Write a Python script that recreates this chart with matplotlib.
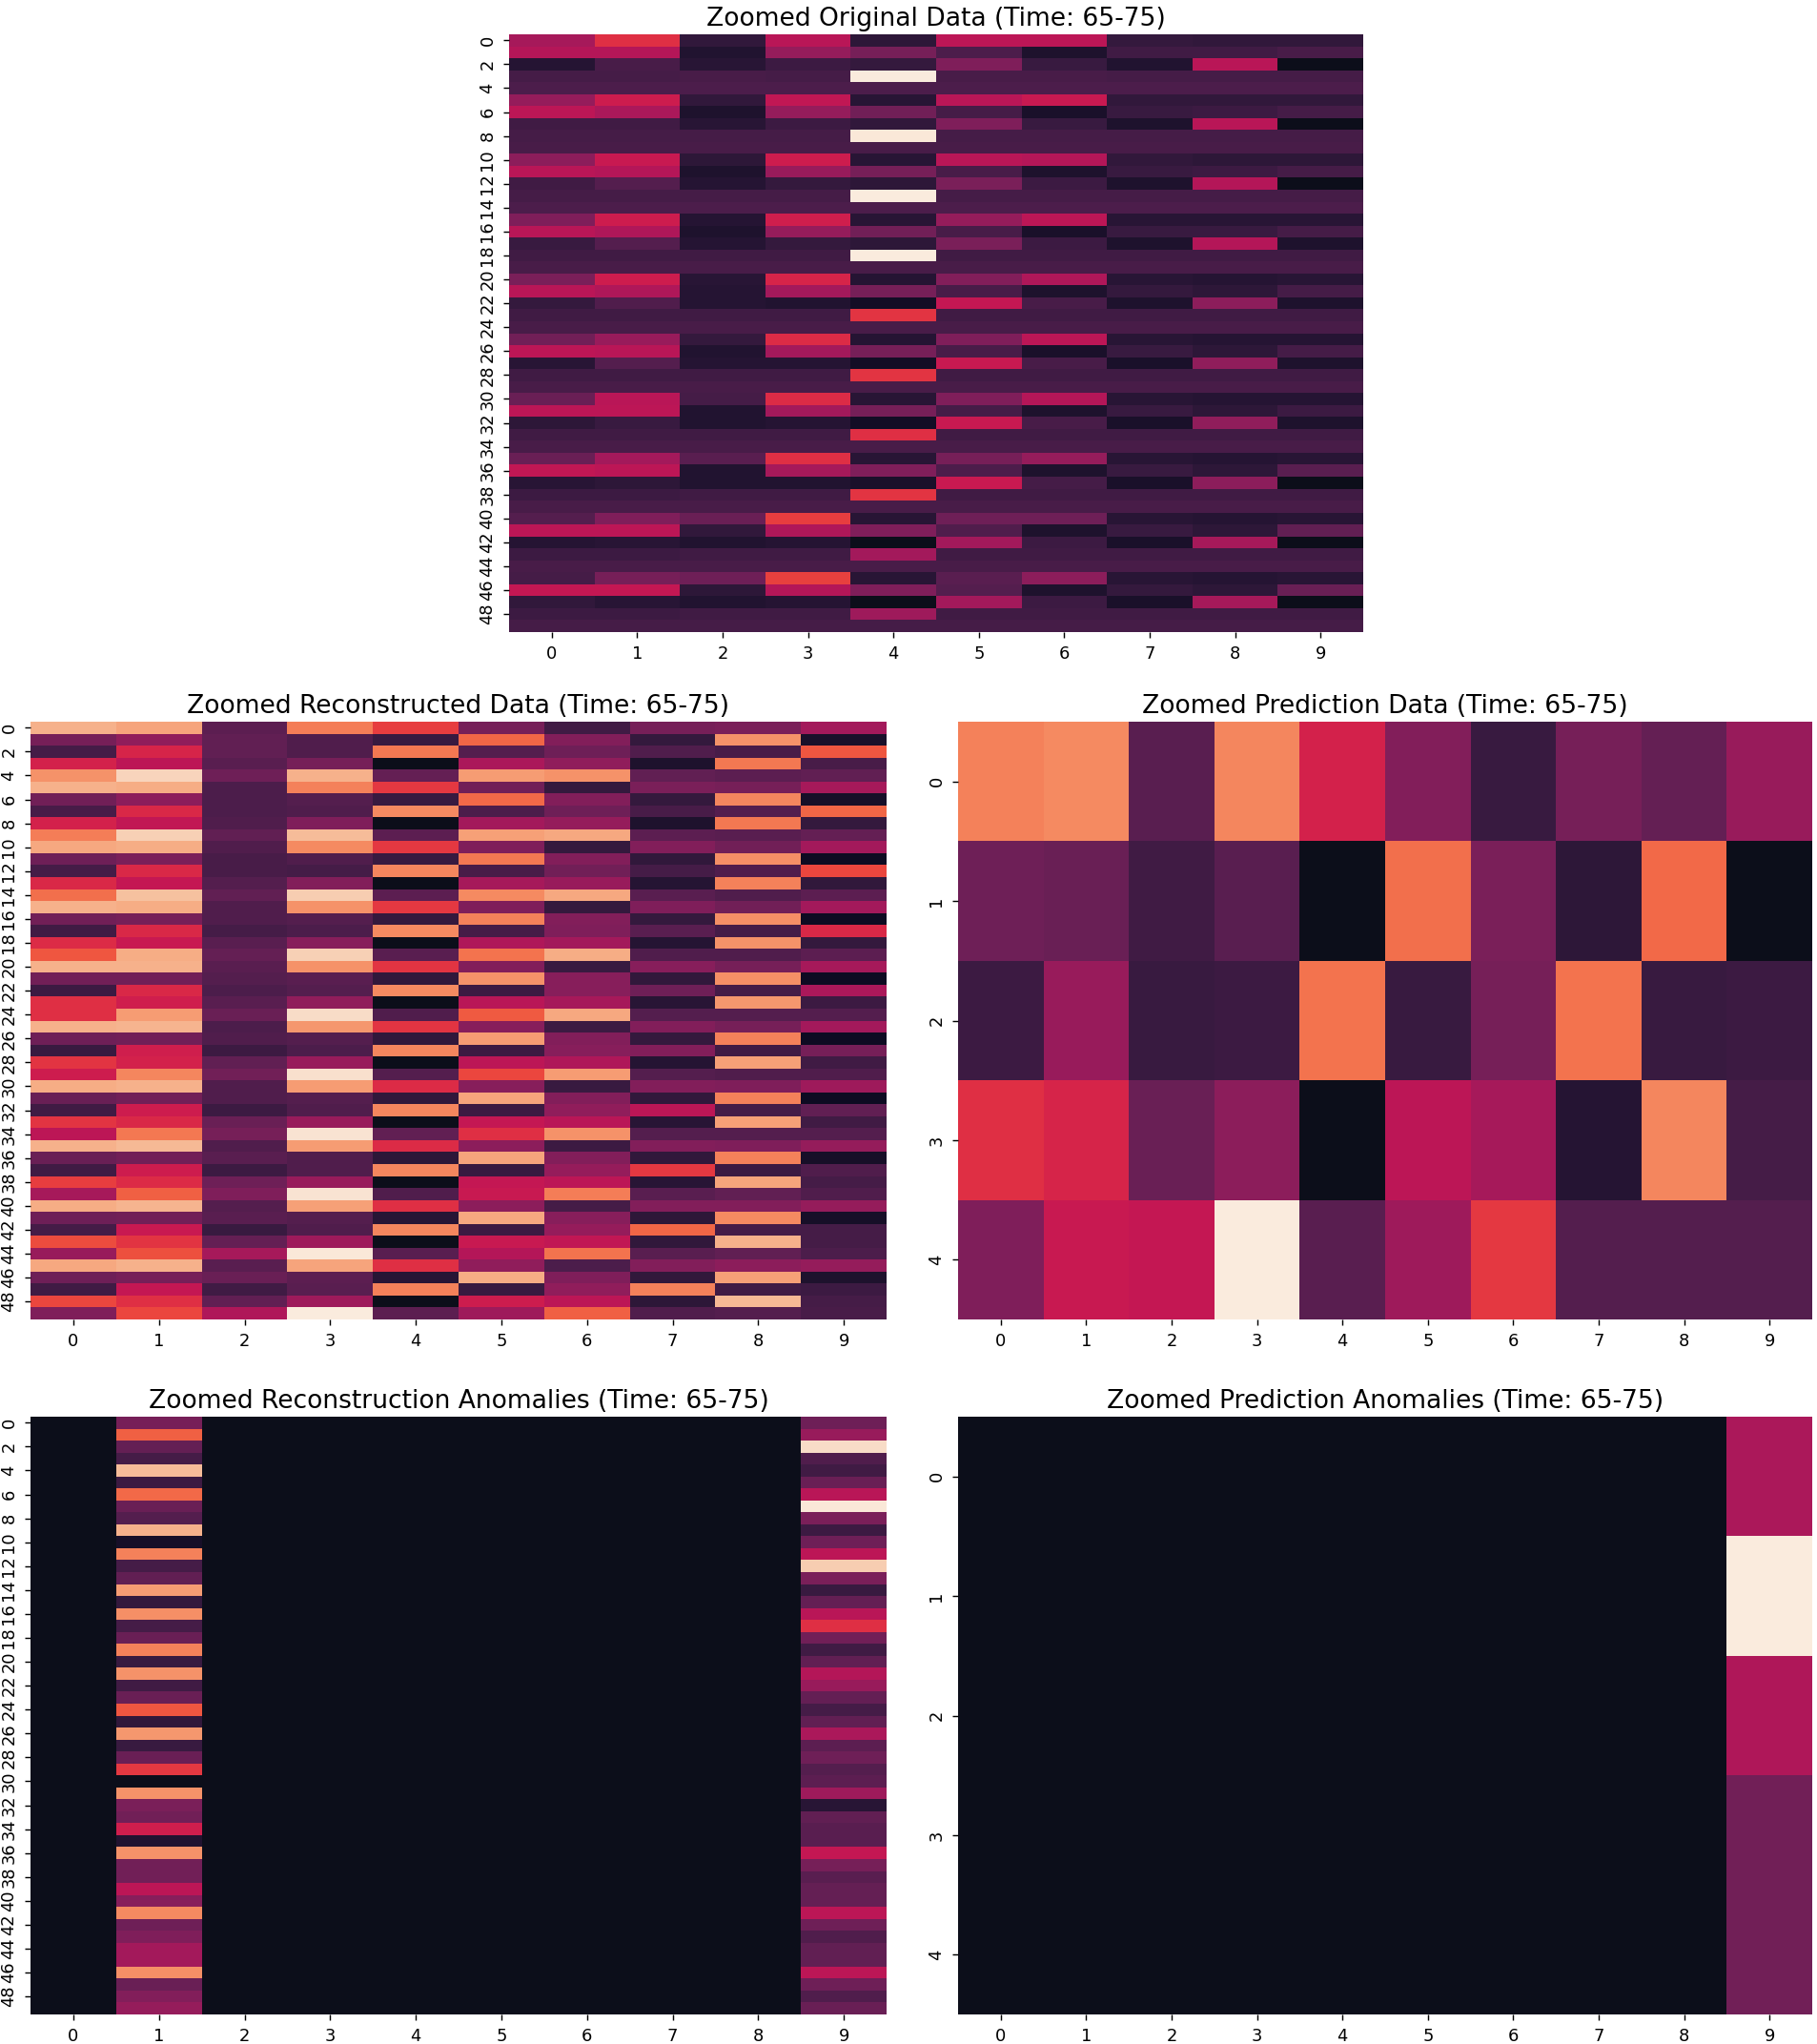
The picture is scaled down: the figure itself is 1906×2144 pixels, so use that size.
import numpy as np
import matplotlib
matplotlib.use('Agg')
import matplotlib.pyplot as plt
import seaborn as sns

original = [
    [.42, .57, .14, .46, .13, .47, .47, .15, .14, .14],
    [.45, .45, .10, .38, .31, .21, .09, .18, .18, .20],
    [.11, .20, .12, .17, .15, .33, .16, .10, .46, .01],
    [.19, .19, .20, .19, 1.0, .20, .20, .19, .19, .19],
    [.21, .21, .21, .21, .21, .21, .21, .21, .21, .21],
    [.38, .51, .14, .48, .12, .46, .50, .14, .14, .14],
    [.47, .43, .09, .38, .30, .19, .08, .16, .17, .19],
    [.18, .18, .12, .17, .14, .33, .16, .09, .46, .01],
    [.19, .19, .19, .19, .99, .19, .19, .19, .19, .19],
    [.20, .20, .20, .20, .20, .20, .20, .20, .20, .20],
    [.36, .50, .13, .51, .12, .46, .45, .14, .13, .13],
    [.46, .45, .09, .39, .31, .20, .09, .16, .17, .19],
    [.18, .23, .11, .15, .13, .32, .17, .09, .45, .01],
    [.19, .19, .19, .19, 1.0, .19, .19, .19, .19, .19],
    [.21, .21, .21, .21, .21, .21, .21, .21, .21, .21],
    [.33, .51, .11, .52, .12, .38, .47, .12, .12, .12],
    [.46, .44, .09, .38, .30, .20, .08, .16, .16, .19],
    [.16, .23, .11, .15, .13, .32, .17, .09, .45, .09],
    [.18, .18, .18, .18, 1.0, .18, .18, .18, .18, .18],
    [.20, .20, .20, .20, .20, .20, .20, .20, .20, .20],
    [.32, .51, .12, .54, .11, .34, .44, .12, .11, .12],
    [.46, .44, .11, .41, .31, .20, .09, .15, .13, .19],
    [.15, .22, .11, .10, .06, .49, .20, .09, .36, .09],
    [.18, .18, .18, .18, .58, .18, .18, .18, .18, .18],
    [.20, .20, .20, .20, .20, .20, .20, .20, .20, .20],
    [.30, .39, .15, .56, .11, .33, .47, .12, .11, .11],
    [.47, .46, .10, .41, .31, .20, .08, .16, .13, .19],
    [.12, .23, .11, .11, .06, .50, .20, .08, .37, .09],
    [.18, .18, .18, .18, .58, .18, .18, .18, .18, .18],
    [.20, .20, .20, .20, .20, .20, .20, .20, .20, .20],
    [.28, .46, .19, .56, .12, .33, .45, .12, .11, .11],
    [.47, .47, .10, .41, .31, .19, .09, .16, .13, .17],
    [.13, .16, .10, .11, .06, .50, .20, .08, .37, .09],
    [.18, .18, .18, .18, .57, .18, .18, .18, .18, .18],
    [.20, .20, .20, .20, .20, .20, .20, .20, .20, .20],
    [.28, .41, .24, .57, .12, .31, .38, .12, .11, .12],
    [.48, .47, .10, .42, .33, .21, .09, .16, .13, .24],
    [.12, .13, .10, .10, .08, .50, .19, .08, .36, .01],
    [.17, .17, .18, .18, .58, .18, .18, .18, .18, .18],
    [.20, .20, .20, .20, .20, .20, .20, .20, .20, .20],
    [.23, .33, .28, .60, .12, .29, .29, .12, .11, .12],
    [.47, .47, .14, .44, .33, .22, .09, .16, .13, .26],
    [.11, .12, .10, .11, .00, .41, .17, .08, .42, .00],
    [.17, .17, .18, .18, .41, .18, .18, .18, .18, .18],
    [.20, .20, .20, .20, .20, .20, .20, .20, .20, .20],
    [.19, .31, .29, .61, .12, .24, .36, .12, .11, .12],
    [.49, .49, .13, .45, .33, .23, .09, .15, .13, .28],
    [.14, .12, .10, .11, .00, .41, .17, .08, .42, .00],
    [.17, .17, .18, .18, .40, .18, .18, .18, .18, .18],
    [.19, .19, .19, .19, .19, .19, .19, .19, .19, .19],
]

reconstructed = [
    [.85, .82, .25, .73, .60, .31, .18, .31, .32, .41],
    [.31, .37, .26, .22, .16, .68, .34, .15, .78, .08],
    [.19, .54, .26, .22, .72, .23, .29, .22, .20, .65],
    [.53, .47, .24, .31, .00, .43, .37, .09, .72, .20],
    [.78, .94, .29, .85, .27, .80, .78, .26, .25, .26],
    [.85, .84, .21, .74, .59, .30, .15, .32, .31, .42],
    [.30, .36, .21, .23, .16, .69, .34, .15, .75, .07],
    [.20, .55, .21, .22, .76, .21, .29, .20, .23, .68],
    [.53, .48, .22, .33, .00, .41, .38, .09, .72, .15],
    [.73, .93, .26, .88, .25, .81, .83, .25, .24, .27],
    [.83, .84, .22, .76, .59, .33, .15, .34, .30, .41],
    [.29, .32, .20, .22, .16, .72, .34, .14, .77, .05],
    [.19, .55, .20, .19, .75, .20, .30, .19, .22, .62],
    [.55, .49, .23, .34, .00, .42, .39, .11, .74, .14],
    [.70, .89, .26, .92, .25, .76, .83, .24, .22, .25],
    [.85, .84, .22, .78, .59, .33, .15, .33, .30, .41],
    [.30, .31, .22, .23, .15, .74, .34, .15, .77, .05],
    [.18, .55, .19, .21, .76, .19, .33, .24, .19, .55],
    [.56, .50, .24, .35, .00, .44, .41, .11, .78, .15],
    [.65, .84, .27, .93, .24, .71, .84, .22, .22, .25],
    [.85, .85, .24, .78, .58, .34, .16, .35, .31, .42],
    [.30, .30, .23, .24, .14, .78, .35, .14, .77, .05],
    [.17, .55, .21, .23, .76, .17, .35, .29, .19, .43],
    [.57, .52, .24, .37, .00, .46, .42, .12, .79, .17],
    [.57, .80, .28, .96, .22, .66, .83, .23, .23, .23],
    [.85, .86, .21, .79, .58, .35, .17, .34, .31, .41],
    [.29, .30, .22, .23, .14, .80, .34, .15, .74, .05],
    [.16, .52, .17, .21, .75, .17, .35, .34, .18, .31],
    [.58, .53, .26, .39, .00, .47, .44, .11, .81, .18],
    [.51, .75, .30, .97, .23, .62, .80, .23, .22, .22],
    [.84, .85, .22, .80, .56, .35, .16, .34, .33, .40],
    [.28, .30, .22, .23, .14, .82, .34, .14, .74, .05],
    [.18, .51, .17, .22, .75, .17, .37, .47, .19, .26],
    [.58, .55, .28, .39, .00, .49, .46, .12, .81, .18],
    [.47, .72, .31, .98, .26, .57, .78, .23, .23, .23],
    [.85, .87, .22, .80, .56, .36, .17, .34, .33, .38],
    [.28, .30, .24, .22, .13, .82, .34, .14, .74, .07],
    [.18, .51, .17, .22, .75, .16, .38, .59, .17, .22],
    [.60, .56, .29, .39, .00, .49, .47, .12, .82, .19],
    [.42, .67, .33, .98, .22, .50, .73, .24, .26, .22],
    [.84, .86, .23, .81, .57, .36, .19, .34, .34, .38],
    [.29, .30, .24, .23, .12, .83, .35, .13, .76, .07],
    [.19, .50, .16, .22, .75, .17, .38, .68, .19, .19],
    [.63, .58, .27, .40, .00, .50, .48, .14, .85, .19],
    [.39, .64, .42, .99, .24, .45, .71, .24, .26, .21],
    [.83, .85, .24, .82, .57, .37, .21, .34, .36, .38],
    [.29, .31, .28, .25, .12, .84, .33, .14, .81, .09],
    [.18, .49, .18, .24, .74, .16, .37, .74, .18, .17],
    [.62, .57, .26, .40, .00, .51, .47, .13, .87, .19],
    [.33, .62, .44, 1.0, .25, .40, .67, .22, .23, .20],
]

prediction = [
    [.74, .76, .24, .75, .53, .34, .16, .31, .27, .39],
    [.29, .28, .18, .24, .00, .70, .32, .13, .69, .00],
    [.17, .39, .16, .17, .71, .16, .31, .71, .16, .17],
    [.57, .54, .28, .36, .00, .47, .42, .11, .75, .19],
    [.33, .50, .49, 1.0, .24, .40, .59, .23, .23, .23],
]

# only two sensors get flagged in the reconstruction, all others stay 0
recon_anom_1 = [.31, .67, .27, .19, .88, .17, .69, .28, .23, .85,
                .07, .74, .19, .26, .80, .15, .77, .19, .28, .74,
                .16, .78, .18, .28, .65, .14, .79, .16, .28, .59,
                .01, .78, .32, .30, .52, .10, .78, .30, .30, .47,
                .35, .76, .29, .33, .41, .41, .77, .28, .34, .38]
recon_anom_9 = [.29, .39, .96, .22, .18, .28, .46, .99, .32, .17,
                .29, .47, .92, .32, .16, .27, .46, .57, .30, .18,
                .26, .45, .39, .27, .19, .26, .43, .25, .29, .23,
                .25, .40, .12, .26, .24, .24, .49, .31, .24, .27,
                .27, .47, .29, .22, .26, .26, .47, .29, .22, .28]
pred_anom_9 = [.43, 1.0, .44, .30, .30]

recon_anom = np.zeros((50, 10))
recon_anom[:, 1] = recon_anom_1
recon_anom[:, 9] = recon_anom_9
pred_anom = np.zeros((5, 10))
pred_anom[:, 9] = pred_anom_9

W, H = 1906, 2144
dpi = 146
fig = plt.figure(figsize=(W / dpi, H / dpi), dpi=dpi)

# the darkest cells of the reference are a bit greyer than rocket's first colour
cmap = sns.color_palette('rocket', as_cmap=True).copy()
cmap.set_under('#0c0e1a')


def panel(data, title, x0, x1, y0, y1):
    # x0..y1 are the axes edges in pixels from the top left
    ax = fig.add_axes([x0 / W, 1 - y1 / H, (x1 - x0) / W, (y1 - y0) / H])
    sns.heatmap(np.array(data), ax=ax, cbar=False, cmap=cmap, vmin=0.012, vmax=1)
    ax.set_title(title, fontsize=13.1, pad=4.5)
    ax.tick_params(labelsize=8.8, width=0.7, length=3.2)
    plt.setp(ax.get_yticklabels(), rotation=90, va='center')
    return ax


panel(original, 'Zoomed Original Data (Time: 65-75)', 534, 1430, 36, 663)
panel(reconstructed, 'Zoomed Reconstructed Data (Time: 65-75)', 32, 930, 757, 1384)
panel(prediction, 'Zoomed Prediction Data (Time: 65-75)', 1005, 1901, 757, 1384)
panel(recon_anom, 'Zoomed Reconstruction Anomalies (Time: 65-75)', 32, 930, 1486, 2113)
panel(pred_anom, 'Zoomed Prediction Anomalies (Time: 65-75)', 1005, 1901, 1486, 2113)

plt.savefig('out.png', dpi=dpi)
